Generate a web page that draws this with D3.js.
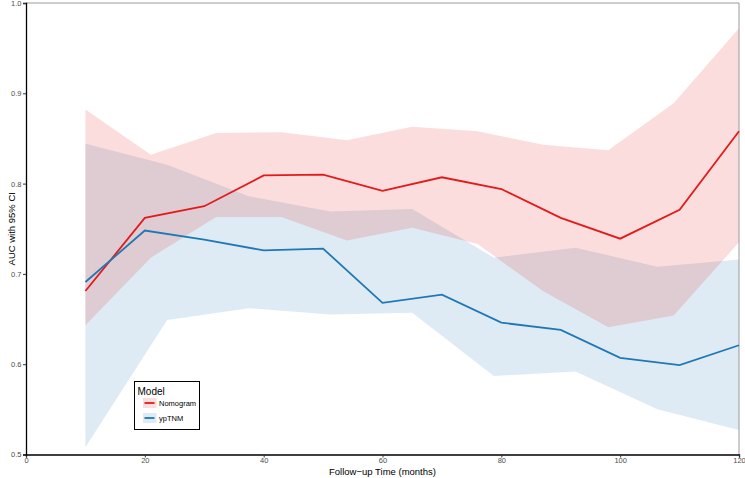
<!DOCTYPE html>
<html>
<head>
<meta charset="utf-8">
<script src="https://cdnjs.cloudflare.com/ajax/libs/d3/7.8.5/d3.min.js"></script>
<style>
    body { margin: 0; background: #fff; }
    text { font-family: "Liberation Sans", Arial, sans-serif; }
</style>
</head>
<body>
<script>
// AUC over time for the two models
var months = [10, 20, 30, 40, 50, 60, 70, 80, 90, 100, 110, 120];
var nomogramAuc = [0.681, 0.762, 0.775, 0.809, 0.810, 0.792, 0.807, 0.794, 0.762, 0.739, 0.771, 0.858];
var yptnmAuc = [0.691, 0.748, 0.738, 0.726, 0.728, 0.668, 0.677, 0.646, 0.638, 0.607, 0.599, 0.621];

// 95% CI bands (the bands are sampled at their own time points)
var nomogramCiMonths = [10, 21, 32, 43, 54, 65, 76, 87, 98, 109, 120];
var nomogramLower = [0.643, 0.718, 0.763, 0.763, 0.737, 0.751, 0.733, 0.681, 0.641, 0.654, 0.735];
var nomogramUpper = [0.882, 0.832, 0.856, 0.857, 0.848, 0.863, 0.858, 0.843, 0.837, 0.889, 0.972];

var yptnmCiMonths = [10, 23.75, 37.5, 51.25, 65, 78.75, 92.5, 106.25, 120];
var yptnmLower = [0.508, 0.649, 0.662, 0.655, 0.657, 0.587, 0.592, 0.550, 0.527];
var yptnmUpper = [0.844, 0.821, 0.786, 0.769, 0.772, 0.718, 0.729, 0.708, 0.716];

var xTicks = [0, 20, 40, 60, 80, 100, 120];
var yTicks = [0.5, 0.6, 0.7, 0.8, 0.9, 1.0];
var modelNames = ["Nomogram", "ypTNM"];
var modelColors = ["#e31a1c", "#1f78b4"];

var width = 745;
var height = 478;

var svg = d3.select("body")
    .append("svg")
    .attr("width", width)
    .attr("height", height);

var x = d3.scaleLinear().domain([0, 120]).range([26, 739]);
var y = d3.scaleLinear().domain([0.5, 1.0]).range([454.5, 3]);

// build the series
var series = [
    {name: modelNames[0], color: modelColors[0], auc: nomogramAuc, ciT: nomogramCiMonths, lo: nomogramLower, hi: nomogramUpper},
    {name: modelNames[1], color: modelColors[1], auc: yptnmAuc, ciT: yptnmCiMonths, lo: yptnmLower, hi: yptnmUpper}
];

var area = d3.area()
    .x(function(d) { return x(d.t); })
    .y0(function(d) { return y(d.lo); })
    .y1(function(d) { return y(d.hi); });

var line = d3.line()
    .x(function(d) { return x(d.t); })
    .y(function(d) { return y(d.v); });

// bands first, blue below red
[series[1], series[0]].forEach(function(s) {
    var pts = s.ciT.map(function(t, i) { return {t: t, lo: s.lo[i], hi: s.hi[i]}; });
    svg.append("path")
        .attr("d", area(pts))
        .attr("fill", s.color)
        .attr("fill-opacity", 0.15);
});

// panel border (top / right grey)
svg.append("path")
    .attr("d", "M" + x(0) + "," + y(1) + "H" + x(120) + "V" + y(0.5))
    .attr("fill", "none")
    .attr("stroke", "#9a9a9a")
    .attr("stroke-width", 1);

// lines
series.forEach(function(s) {
    var pts = months.map(function(t, i) { return {t: t, v: s.auc[i]}; });
    svg.append("path")
        .attr("d", line(pts))
        .attr("fill", "none")
        .attr("stroke", s.color)
        .attr("stroke-width", 1.8);
});

// axes
var xAxis = svg.append("g")
    .attr("transform", "translate(0," + y(0.5) + ")")
    .call(d3.axisBottom(x).tickValues(xTicks).tickSize(3).tickPadding(0.5).tickFormat(d3.format("d")));
var yAxis = svg.append("g")
    .attr("transform", "translate(" + x(0) + ",0)")
    .call(d3.axisLeft(y).tickValues(yTicks).tickSize(3).tickPadding(1.5).tickFormat(d3.format(".1f")));

[xAxis, yAxis].forEach(function(a) {
    a.select(".domain").attr("stroke", "#000").attr("stroke-width", 1.3);
    a.selectAll(".tick line").attr("stroke", "#333");
    a.selectAll(".tick text")
        .attr("fill", "#4d4d4d")
        .style("font-size", "7.5px")
        .style("font-family", "'Liberation Sans', Arial, sans-serif");
});

// axis titles
svg.append("text")
    .attr("x", (x(0) + x(120)) / 2)
    .attr("y", 474.5)
    .attr("text-anchor", "middle")
    .attr("fill", "#000")
    .style("font-size", "9.5px")
    .text("Follow\u2212up Time (months)");

svg.append("text")
    .attr("transform", "translate(15," + (y(0.75)) + ") rotate(-90)")
    .attr("text-anchor", "middle")
    .attr("fill", "#000")
    .style("font-size", "9.5px")
    .text("AUC with 95% CI");

// legend
var legend = svg.append("g");
legend.append("rect")
    .attr("x", 134.5)
    .attr("y", 381.5)
    .attr("width", 65)
    .attr("height", 48)
    .attr("fill", "#fff")
    .attr("stroke", "#000")
    .attr("stroke-width", 1);

legend.append("text")
    .attr("x", 137.5)
    .attr("y", 394.5)
    .attr("fill", "#000")
    .style("font-size", "10px")
    .text("Model");

series.forEach(function(s, i) {
    var ky = 398 + i * 15;
    legend.append("rect")
        .attr("x", 143)
        .attr("y", ky)
        .attr("width", 13.5)
        .attr("height", 10)
        .attr("fill", s.color)
        .attr("fill-opacity", 0.15);
    legend.append("line")
        .attr("x1", 144.5)
        .attr("x2", 154.5)
        .attr("y1", ky + 5)
        .attr("y2", ky + 5)
        .attr("stroke", s.color)
        .attr("stroke-width", 1.8);
    legend.append("text")
        .attr("x", 159)
        .attr("y", ky + 8)
        .attr("fill", "#000")
        .style("font-size", "7.5px")
        .text(s.name);
});
</script>
</body>
</html>
